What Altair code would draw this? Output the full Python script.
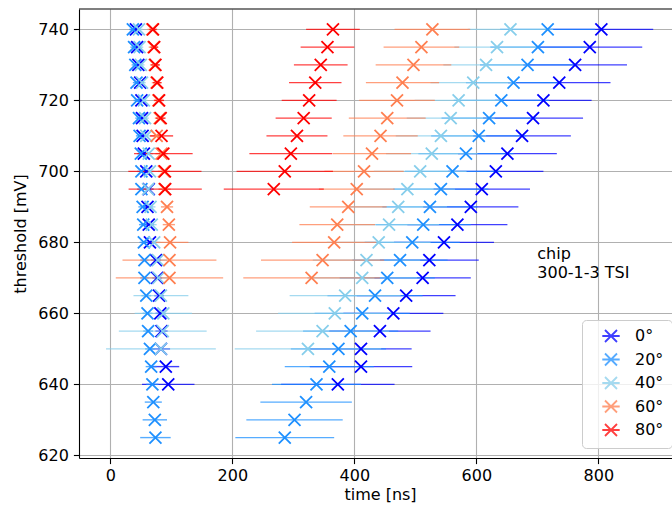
import altair as alt
import pandas as pd

# ---------------- data ----------------
thresholds = [740, 735, 730, 725, 720, 715, 710, 705, 700, 695, 690, 685,
              680, 675, 670, 665, 660, 655, 650, 645, 640, 635, 630, 625]

angles = ["0°", "20°", "40°", "60°", "80°"]
colors = ["#0000ff", "#1e90ff", "#87ceeb", "#ff7f50", "#ff0000"]

# early (first) peak, listed from 740 mV downwards
early_0 = [42, 44, 46, 49, 51, 52, 53, 55, 59, 63, 61, 63, 65, 75, 77, 80, 82, 84, 83, 91, 95]
early_0_err = [6, 6, 6, 6, 6, 7, 7, 7, 7, 8, 8, 8, 8, 8, 8, 8, 8, 10, 15, 22, 43]
early_20 = [37, 39, 41, 43, 44, 47, 48, 50, 51, 51, 53, 54, 55, 56, 56, 59, 61, 62, 65, 67, 69, 70.5, 73, 74]
early_20_err = [6, 6, 6, 6, 6, 6, 6, 6, 7, 7, 7, 7, 7, 7, 7, 8, 8, 8, 8, 9, 10, 14, 20, 25]
early_40 = [47, 48, 50, 52, 55, 57, 59, 63, 65, 62, 66, 68, 72, 78, 79, 83, 87, 86, 83]
early_40_err = [6, 6, 6, 6, 6, 6, 7, 7, 7, 7, 8, 8, 10, 15, 18, 45, 47, 72, 90]
early_60 = [69, 71, 73, 76, 79, 81, 76, 84, 88, 89, 93, 96, 98, 97, 97]
early_60_err = [8, 8, 8, 8, 8, 8, 10, 10, 10, 10, 10, 10, 30, 77, 88]
early_80 = [70, 72, 74, 77, 80, 82.6, 84, 87, 89.5, 90]
early_80_err = [6, 6, 7, 7, 8, 8, 19, 48, 60, 60]

# late (second) peak
late_0 = [805, 786, 762, 736, 710, 693, 675, 651, 632, 609, 591, 569, 547, 523, 512, 485, 464, 442, 411, 411, 373]
late_0_err = [85, 86, 85, 84, 79, 82, 80, 81, 78, 79, 78, 82, 82, 81, 79, 81, 82, 83, 83, 84, 93]
late_20 = [717, 701, 684, 661, 641, 621, 604, 583, 561, 542, 524, 513, 495, 475, 454, 434, 413, 394, 374, 359, 338, 321, 302, 286]
late_20_err = [78, 78, 78, 78, 78, 78, 78, 78, 78, 78, 78, 78, 78, 78, 78, 78, 78, 78, 78, 73, 73, 75, 79, 81]
late_40 = [656, 634, 616, 595, 571, 558, 542, 527, 508, 487, 472, 457, 440, 420, 413, 385, 368, 348, 324]
late_40_err = [70, 70, 70, 70, 72, 72, 74, 75, 76, 78, 80, 82, 85, 88, 90, 91, 93, 109, 120]
late_60 = [528, 510, 497, 479, 470, 454, 443, 429, 416, 404, 390, 372, 367, 348, 330]
late_60_err = [62, 62, 62, 60, 62, 63, 61, 64, 65, 62, 63, 62, 69, 101, 112]
late_80 = [365, 356, 345, 336, 326, 317, 306, 296, 286, 268]
late_80_err = [44, 44, 44, 43, 45, 46, 50, 68, 79, 82]

annotation = "chip\n300-1-3 TSI"
annotation_x = 700
annotation_y = 679

series = [
    ("0°", early_0, early_0_err, late_0, late_0_err),
    ("20°", early_20, early_20_err, late_20, late_20_err),
    ("40°", early_40, early_40_err, late_40, late_40_err),
    ("60°", early_60, early_60_err, late_60, late_60_err),
    ("80°", early_80, early_80_err, late_80, late_80_err),
]

rows = []
for ang, e, ee, l, le in series:
    for vals, errs in ((e, ee), (l, le)):
        for thr, t, er in zip(thresholds, vals, errs):
            rows.append({"angle": ang, "thr": thr, "t": t, "lo": t - er, "hi": t + er})
df = pd.DataFrame(rows)

# ---------------- styling ----------------
FONT = "DejaVu Sans"
W, H = 593, 449
XPATH = "M-1,-1L1,1M1,-1L-1,1"
LEGPATH = "M-1,-1L1,1M1,-1L-1,1M-1.45,0L1.45,0"

xscale = alt.Scale(domain=[-51.3, 920.8], nice=False, zero=False)
yscale = alt.Scale(domain=[619.25, 745.75], nice=False, zero=False)

common_axis = dict(
    grid=True, gridColor="#b0b0b0", gridWidth=1.1,
    domainColor="black", domainWidth=1.1,
    tickColor="black", tickSize=5.6, tickWidth=1.1,
    labelFont=FONT, labelFontSize=16, labelColor="black",
    titleFont=FONT, titleFontSize=16, titleColor="black",
    titleFontWeight="normal", labelOverlap=False, format="d",
)
xaxis = alt.Axis(values=[0, 200, 400, 600, 800], title="time [ns]",
                 labelPadding=4, titlePadding=3, titleX=301, **common_axis)
yaxis = alt.Axis(values=[620, 640, 660, 680, 700, 720, 740], title="threshold [mV]",
                 labelPadding=5, titlePadding=9, **common_axis)

cscale = alt.Scale(domain=angles, range=colors)

legend = alt.Legend(
    title=None, orient="none", legendX=503, legendY=311,
    symbolType=LEGPATH, symbolSize=144, symbolStrokeWidth=1.8,
    symbolFillColor="transparent",
    labelFont=FONT, labelFontSize=16, labelColor="black",
    labelOffset=16, symbolOffset=13, rowPadding=3.5, padding=8,
    fillColor="rgba(255,255,255,0.8)", strokeColor="#cccccc",
    cornerRadius=4,
)
color = alt.Color("angle:N", scale=cscale, sort=angles, legend=legend)

bars = alt.Chart(df).mark_rule(strokeWidth=1.4, opacity=0.75).encode(
    x=alt.X("lo:Q", scale=xscale, axis=xaxis),
    x2="hi:Q",
    y=alt.Y("thr:Q", scale=yscale, axis=yaxis),
    color=color,
)

points = alt.Chart(df).mark_point(
    shape=XPATH, filled=False, size=144, strokeWidth=1.8, opacity=1
).encode(
    x=alt.X("t:Q", scale=xscale),
    y=alt.Y("thr:Q", scale=yscale),
    color=color,
)

text = alt.Chart(pd.DataFrame({"x": [annotation_x], "y": [annotation_y], "label": [annotation]})).mark_text(
    align="left", baseline="top", font=FONT, fontSize=16, lineBreak="\n",
    lineHeight=19, color="black"
).encode(
    x=alt.X("x:Q", scale=xscale),
    y=alt.Y("y:Q", scale=yscale),
    text="label:N",
)

top_frame = alt.Chart(pd.DataFrame({"a": [0]})).mark_rule(color="black", strokeWidth=1.1).encode(
    x=alt.value(0), x2=alt.value(W), y=alt.value(0)
)

chart = alt.layer(bars, points, text, top_frame).properties(
    width=W, height=H,
    autosize=alt.AutoSizeParams(type="none"),
    padding={"left": 79, "top": 9, "right": 0, "bottom": 52},
).configure_view(stroke=None)

chart.save("out.html", embed_options={"renderer": "svg", "actions": False})
